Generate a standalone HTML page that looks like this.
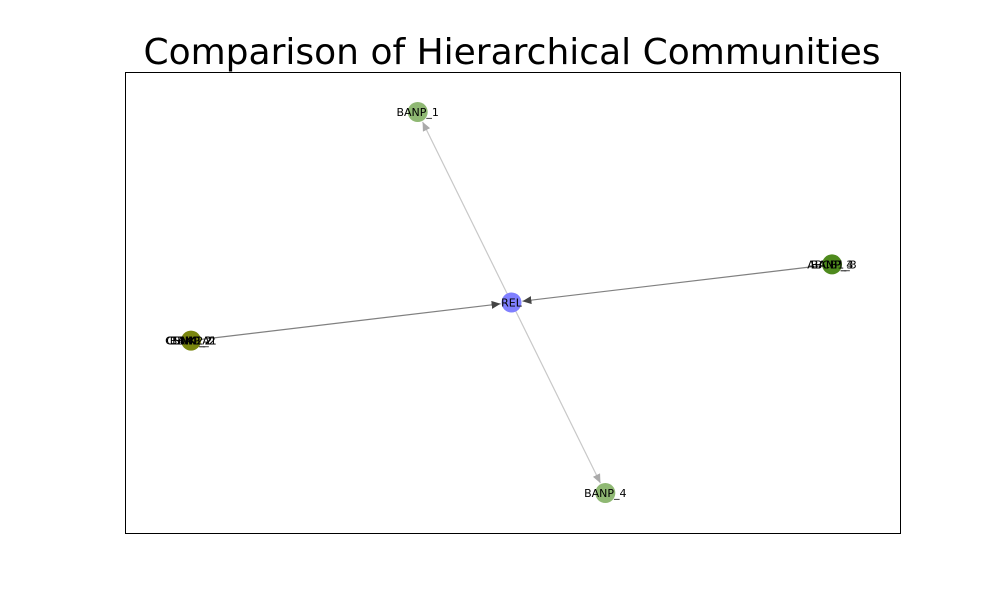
<!DOCTYPE html>
<html><head><meta charset="utf-8"><style>
body{margin:0;background:#fff;}
svg{display:block;font-family:"DejaVu Sans",sans-serif;}
</style></head><body>
<svg width="1000" height="600" viewBox="0 0 1000 600">
<defs>
<marker id="ad" markerWidth="10" markerHeight="8" refX="9" refY="4" orient="auto" markerUnits="userSpaceOnUse"><path d="M0,0 L9,4 L0,8 z" fill="#444"/></marker>
<marker id="al" markerWidth="10" markerHeight="8" refX="9" refY="4" orient="auto" markerUnits="userSpaceOnUse"><path d="M0,0 L9,4 L0,8 z" fill="#aaa"/></marker>
</defs>
<text x="512" y="64" font-size="36" text-anchor="middle">Comparison of Hierarchical Communities</text>
<rect x="125.5" y="72.5" width="775" height="461" fill="none" stroke="#000" stroke-width="1"/>
<g id="edges"></g>
<g id="nodes"></g>
<script>
const nodeNames=["REL","BANP_1","BANP_4","RIGHT","LEFT"];
const nodeX=[0.5,0.38,0.62,0.91,0.09];
const nodeY=[0.5,0.1,0.9,0.42,0.58];
const nodeColor=["#7f7fff","#8fb873","#8fb873","#4e8a1d","#7a860f"];
const nodeLabels=[["REL"],["BANP_1"],["BANP_4"],["ABCB1_3","BANP_3","BANP_4"],["CSNK1A1","TBK1_2","BANP_2","CSNK2_2"]];
const edgeFrom=[0,0,3,4];
const edgeTo=[1,2,0,0];
const edgeDark=[false,false,true,true];
const ns="http://www.w3.org/2000/svg";
const sx=v=>191+(v-0.09)/(0.91-0.09)*(832-191);
const sy=v=>112+(v-0.1)/(0.9-0.1)*(493-112);
const eg=document.getElementById('edges'),ng=document.getElementById('nodes');
const r=10;
edgeFrom.forEach((f,i)=>{
 const t=edgeTo[i];
 const x1=sx(nodeX[f]),y1=sy(nodeY[f]),x2=sx(nodeX[t]),y2=sy(nodeY[t]);
 const d=Math.hypot(x2-x1,y2-y1),ux=(x2-x1)/d,uy=(y2-y1)/d;
 const l=document.createElementNS(ns,'line');
 l.setAttribute('x1',x1);l.setAttribute('y1',y1);
 l.setAttribute('x2',x2-ux*(r+1));l.setAttribute('y2',y2-uy*(r+1));
 l.setAttribute('stroke',edgeDark[i]?'#808080':'#c8c8c8');
 l.setAttribute('stroke-width','1.2');
 l.setAttribute('marker-end',edgeDark[i]?'url(#ad)':'url(#al)');
 
 
 eg.appendChild(l);
});
nodeNames.forEach((n,i)=>{
 const c=document.createElementNS(ns,'circle');
 c.setAttribute('cx',sx(nodeX[i]));c.setAttribute('cy',sy(nodeY[i]));c.setAttribute('r',r);
 c.setAttribute('fill',nodeColor[i]);
 
 
 ng.appendChild(c);
 nodeLabels[i].forEach(lb=>{
  const t=document.createElementNS(ns,'text');
  t.setAttribute('x',sx(nodeX[i]));t.setAttribute('y',sy(nodeY[i])+4);
  t.setAttribute('font-size','11');t.setAttribute('text-anchor','middle');
  t.textContent=lb;
  
  
  ng.appendChild(t);
 });
});
</script>
</svg>
</body></html>
